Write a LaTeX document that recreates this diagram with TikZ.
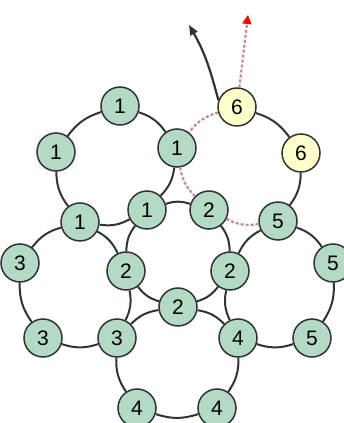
\documentclass[tikz,border=0pt]{standalone}
\usepackage{fontspec}
\setmainfont{Liberation Sans}
\usetikzlibrary{arrows.meta}
\definecolor{ringgreen}{RGB}{178,218,196}
\definecolor{ringyellow}{RGB}{255,255,204}
\definecolor{trailpink}{RGB}{190,140,150}

\begin{document}
\begin{tikzpicture}[x=1pt,y=1pt,
    stone/.style={circle,draw=black!80,line width=1.5pt,fill=ringgreen,minimum size=38pt,inner sep=0pt,font=\fontsize{21}{21}\selectfont},
    gold/.style={stone,fill=ringyellow},
    ring/.style={black!80,line width=2pt},
    trail/.style={trailpink,line width=2.2pt,dash pattern=on 3pt off 2pt}]
  \useasboundingbox (0,0) rectangle (343,423);

  % ring of ones
  \node[stone] (a1) at (120,317) {1};
  \node[stone] (a2) at (177,275) {1};
  \node[stone] (a3) at (147,213) {1};
  \node[stone] (a4) at (80,201) {1};
  \node[stone] (a5) at (56,271) {1};
  % ring of sixes
  \node[gold] (b1) at (237,316) {6};
  \node[gold] (b2) at (301,270) {6};
  \node[stone] (b3) at (278,202) {5};
  \node[stone] (b4) at (209,213) {2};
  % ring of twos
  \node[stone] (c2) at (230,152) {2};
  \node[stone] (c3) at (178,116) {2};
  \node[stone] (c4) at (126,152) {2};
  % ring of threes
  \node[stone] (d3) at (117,85) {3};
  \node[stone] (d4) at (43,85) {3};
  \node[stone] (d5) at (20,160) {3};
  % ring of fours
  \node[stone] (e2) at (238,85) {4};
  \node[stone] (e3) at (217,15) {4};
  \node[stone] (e4) at (137,15) {4};
  % ring of fives
  \node[stone] (f3) at (333,160) {5};
  \node[stone] (f4) at (312,85) {5};

  \coordinate (up) at (189,398);
  \coordinate (goal) at (248,408);

  % every ring runs counterclockwise
  \foreach \from/\to in {a2/a1,a1/a5,a5/a4,a4/a3,a3/a2,
      b2/b1,b3/b2,
      b4/a3,a3/c4,c4/c3,c3/c2,c2/b4,
      a4/d5,d5/d4,d4/d3,d3/c4,c4/a4,
      c3/d3,d3/e4,e4/e3,e3/e2,e2/c3,
      b3/c2,c2/e2,e2/f4,f4/f3,f3/b3}
    \draw[ring] (\from) to[bend right=18] (\to);
  \foreach \from/\to in {b1/a2,a2/b4,b4/b3}
    \draw[trail] (\from) to[bend right=18] (\to);

  \draw[ring,line width=2.2pt,-{Triangle[length=10pt,width=8pt]}] (b1.160) to[out=105,in=-60] (up);
  \draw[trail,-{Triangle[red,length=9pt,width=9pt]}] (b1) -- (goal);
\end{tikzpicture}
\end{document}
